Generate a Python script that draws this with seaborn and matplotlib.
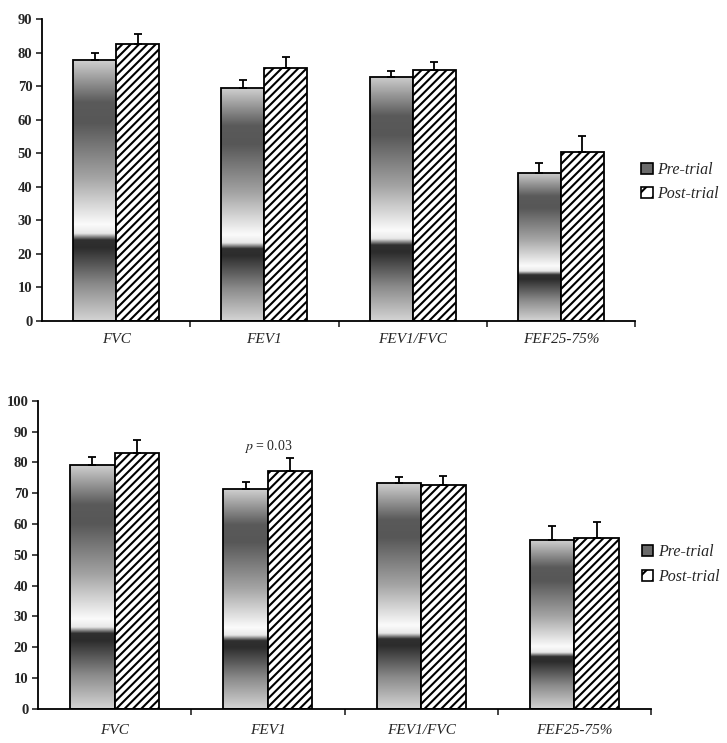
import numpy as np
import pandas as pd
import matplotlib
matplotlib.use("Agg")
import matplotlib.pyplot as plt
from matplotlib.colors import LinearSegmentedColormap
from matplotlib.patches import Patch
import seaborn as sns

categories = ["FVC", "FEV1", "FEV1/FVC", "FEF25-75%"]
groups = ["Pre-trial", "Post-trial"]

top_pre = [77.7, 69.4, 72.8, 44.2]
top_post = [82.7, 75.4, 74.7, 50.5]
top_pre_err = [2.3, 2.4, 1.7, 2.8]
top_post_err = [2.8, 3.2, 2.6, 4.7]

bot_pre = [79.0, 71.2, 73.2, 54.8]
bot_post = [82.9, 77.3, 72.6, 55.3]
bot_pre_err = [2.6, 2.5, 2.1, 4.4]
bot_post_err = [4.4, 4.0, 2.9, 5.2]

annotation_text = "$p$ = 0.03"

sns.set_style("ticks")
plt.rcParams["font.family"] = ["Liberation Serif", "DejaVu Serif"]
plt.rcParams["mathtext.fontset"] = "stix"
plt.rcParams["hatch.linewidth"] = 1.5

grad_cmap = LinearSegmentedColormap.from_list(
    "bargrad",
    [(0.0, "#d4d4d4"), (0.14, "#8a8a8a"), (0.28, "#2c2c2c"), (0.31, "#303030"),
     (0.335, "#e8e8e8"), (0.37, "#fbfbfb"), (0.55, "#a4a4a4"), (0.76, "#575757"),
     (0.84, "#5a5a5a"), (1.0, "#cfcfcf")])
grad = np.linspace(0, 1, 512).reshape(-1, 1)

fig = plt.figure(figsize=(7.27, 7.43), dpi=100)
ax_top = fig.add_axes([0.0578, 0.568, 0.8157, 0.4064])
ax_bot = fig.add_axes([0.0523, 0.0458, 0.8432, 0.4149])


def draw(ax, pre, post, pre_err, post_err, ymax, label_pad, leg_anchor):
    df = pd.DataFrame({
        "Parameter": categories * 2,
        "Time": [groups[0]] * 4 + [groups[1]] * 4,
        "Value": list(pre) + list(post),
    })
    sns.barplot(data=df, x="Parameter", y="Value", hue="Time", order=categories,
                hue_order=groups, width=0.58, errorbar=None, legend=False,
                edgecolor="black", linewidth=1.3, ax=ax,
                palette={groups[0]: "#888888", groups[1]: "white"})
    pre_bars = ax.containers[0]
    post_bars = ax.containers[1]
    for p in pre_bars.patches:
        x0, w, h = p.get_x(), p.get_width(), p.get_height()
        p.set_facecolor("none")
        im = ax.imshow(grad, cmap=grad_cmap, extent=[x0, x0 + w, 0, h],
                       origin="lower", aspect="auto", zorder=0.9,
                       interpolation="bilinear", vmin=0, vmax=1)
        im.set_clip_path(p)
    for p in post_bars.patches:
        p.set_facecolor("white")
        p.set_hatch("////")
    for bars, vals, errs in ((pre_bars, pre, pre_err), (post_bars, post, post_err)):
        xs = [p.get_x() + p.get_width() / 2 for p in bars.patches]
        ax.errorbar(xs, vals, yerr=[np.zeros(len(errs)), errs], fmt="none",
                    ecolor="black", elinewidth=1.3, capsize=3, capthick=1.3, zorder=3)
    ax.set_xlim(-0.5, 3.5)
    ax.set_ylim(0, ymax)
    ax.set_yticks(np.arange(0, ymax + 1, 10))
    ax.set_xticks(range(4))
    ax.set_xticklabels(categories, style="italic", fontsize=11)
    ax.set_xticks([0.5, 1.5, 2.5, 3.5], minor=True)
    ax.tick_params(axis="x", which="major", length=0, pad=label_pad)
    ax.tick_params(axis="x", which="minor", length=4, width=1.2, direction="out")
    ax.tick_params(axis="y", length=4, width=1.2, direction="out", pad=3)
    for t in ax.get_yticklabels():
        t.set_fontweight("bold")
        t.set_fontsize(10.5)
    ax.set_xlabel("")
    ax.set_ylabel("")
    sns.despine(ax=ax)
    for s in ("left", "bottom"):
        ax.spines[s].set_linewidth(1.3)
        ax.spines[s].set_color("black")
    handles = [Patch(facecolor="#6a6a6a", edgecolor="black", linewidth=1.2),
               Patch(facecolor="white", edgecolor="black", hatch="//", linewidth=1.2)]
    ax.legend(handles, groups, loc="center left", bbox_to_anchor=leg_anchor,
              frameon=False, handlelength=0.7, handleheight=0.7, handletextpad=0.3,
              labelspacing=0.55, prop={"style": "italic", "size": 11.5},
              borderaxespad=0)


draw(ax_top, top_pre, top_post, top_pre_err, top_post_err, 90, 9, (1.0, 0.46))
draw(ax_bot, bot_pre, bot_post, bot_pre_err, bot_post_err, 100, 11, (0.975, 0.468))

ax_bot.text(1.0, 85.3, annotation_text, ha="center", va="center", fontsize=10)

fig.savefig("out.png", dpi=100)
